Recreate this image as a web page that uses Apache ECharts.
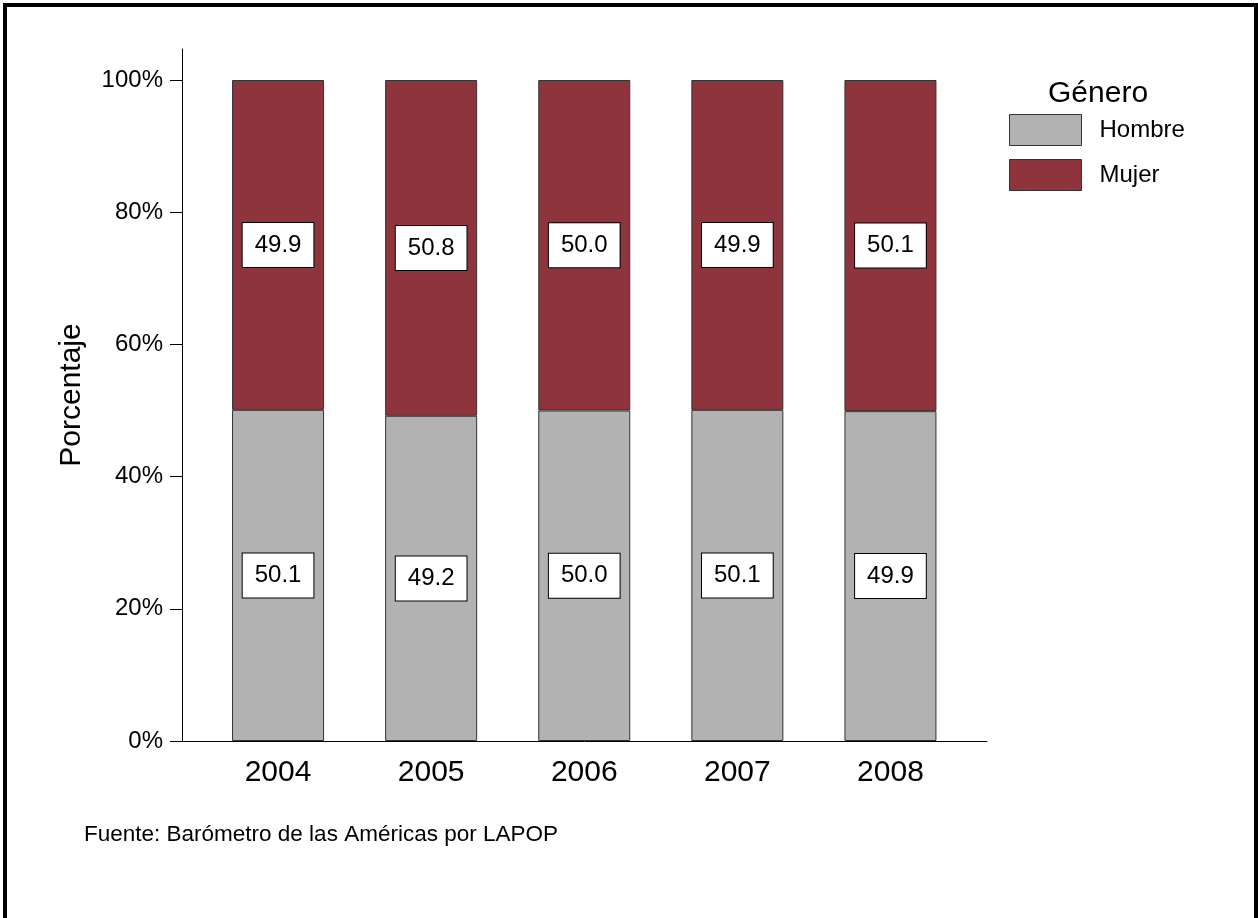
<!DOCTYPE html>
<html>
<head>
<meta charset="utf-8">
<script src="https://cdn.jsdelivr.net/npm/echarts@6/dist/echarts.min.js"></script>
<style>
html,body{margin:0;padding:0;background:#fff;}
#chart{width:1258px;height:918px;}
</style>
</head>
<body>
<div id="chart"></div>
<script>
const years = ['2004', '2005', '2006', '2007', '2008'];
const hombre = [50.1, 49.2, 50.0, 50.1, 49.9];
const mujer = [49.9, 50.8, 50.0, 49.9, 50.1];
const seriesNames = ['Hombre', 'Mujer'];
const legendTitle = 'Género';
const yAxisTitle = 'Porcentaje';
const sourceNote = 'Fuente: Barómetro de las Américas por LAPOP';

const FONT = 'Liberation Sans, Arial, sans-serif';
const colors = ['#b2b2b2', '#8d343c'];

const chart = echarts.init(document.getElementById('chart'), null, {renderer: 'canvas'});

const labelStyle = {
  show: true,
  position: 'inside',
  formatter: p => p.value.toFixed(1),
  fontFamily: FONT,
  fontSize: 24,
  lineHeight: 26,
  color: '#000',
  backgroundColor: '#fff',
  borderColor: '#000',
  borderWidth: 1,
  padding: [10, 12, 8, 12]
};

chart.setOption({
  animation: false,
  backgroundColor: '#fff',
  textStyle: {fontFamily: FONT},
  title: [
    {text: legendTitle, left: 1043, top: 74, textStyle: {fontFamily: FONT, fontSize: 30, fontWeight: 'normal', color: '#000'}},
    {text: sourceNote, left: 79, top: 818, textStyle: {fontFamily: FONT, fontSize: 22.5, fontWeight: 'normal', color: '#000'}}
  ],
  legend: {
    orient: 'vertical',
    left: 1009,
    top: 114,
    padding: 0,
    itemWidth: 72,
    itemHeight: 31,
    itemGap: 13,
    icon: 'rect',
    itemStyle: {borderColor: '#333', borderWidth: 1},
    textStyle: {fontFamily: FONT, fontSize: 24, color: '#000', padding: [0, 0, 0, 13]},
    data: seriesNames
  },
  graphic: [{
    type: 'rect',
    shape: {x: 5, y: 5, width: 1251, height: 930},
    style: {fill: 'none', stroke: '#000', lineWidth: 4},
    silent: true
  }],
  grid: [
    {left: 201.5, right: 291, top: 80, bottom: 177},
    {left: 182, right: 271, top: 49, bottom: 177}
  ],
  xAxis: [
    {
      type: 'category', gridIndex: 0, data: years,
      axisLine: {show: false}, axisTick: {show: false},
      axisLabel: {fontFamily: FONT, fontSize: 30, color: '#000', margin: 17}
    },
    {
      type: 'value', gridIndex: 1, min: 0, max: 1,
      axisLine: {show: true, lineStyle: {color: '#000', width: 1}},
      axisTick: {show: false}, axisLabel: {show: false}, splitLine: {show: false}
    }
  ],
  yAxis: [
    {
      type: 'value', gridIndex: 0, min: 0, max: 100, interval: 20, offset: 19.5,
      axisLine: {show: false},
      axisTick: {show: true, length: 12, lineStyle: {color: '#000', width: 1}},
      axisLabel: {fontFamily: FONT, fontSize: 24, color: '#000', margin: 19, formatter: '{value}%'},
      splitLine: {show: false}
    },
    {
      type: 'value', gridIndex: 1, min: 0, max: 1,
      name: yAxisTitle, nameLocation: 'middle', nameRotate: 90, nameGap: 95,
      nameTextStyle: {fontFamily: FONT, fontSize: 30, color: '#000'},
      axisLine: {show: true, lineStyle: {color: '#000', width: 1}},
      axisTick: {show: false}, axisLabel: {show: false}, splitLine: {show: false}
    }
  ],
  series: [
    {
      name: seriesNames[0], type: 'bar', stack: 'total', xAxisIndex: 0, yAxisIndex: 0,
      data: hombre, barWidth: 92,
      itemStyle: {color: colors[0], borderColor: '#333', borderWidth: 1},
      label: labelStyle
    },
    {
      name: seriesNames[1], type: 'bar', stack: 'total', xAxisIndex: 0, yAxisIndex: 0,
      data: mujer, barWidth: 92,
      itemStyle: {color: colors[1], borderColor: '#333', borderWidth: 1},
      label: labelStyle
    }
  ]
});
</script>
</body>
</html>
